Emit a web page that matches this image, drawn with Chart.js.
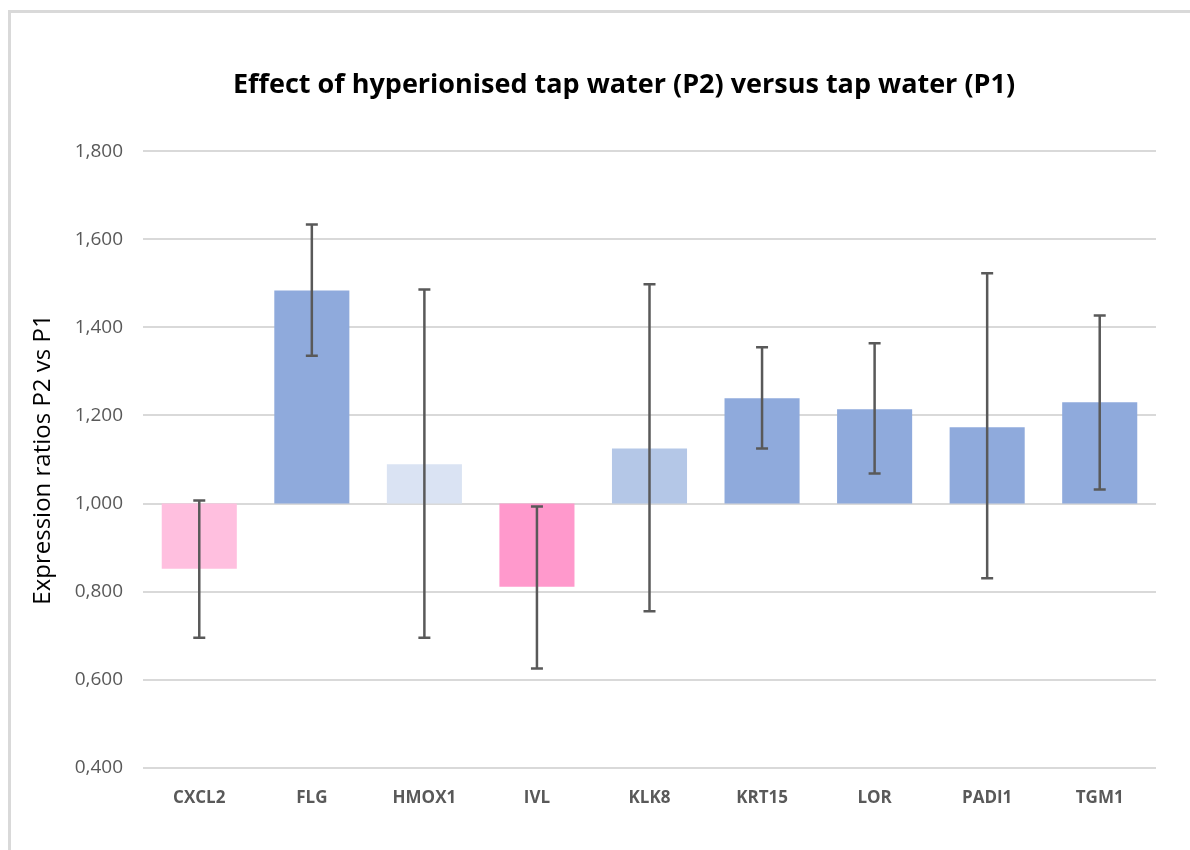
<!DOCTYPE html>
<html>
<head>
<meta charset="utf-8">
<script src="https://cdn.jsdelivr.net/npm/chart.js@4.4.1/dist/chart.umd.min.js"></script>
<style>
  html, body { margin: 0; padding: 0; background: #ffffff; overflow: hidden; width: 1190px; height: 850px; }
  #frame { position: absolute; left: 8px; top: 10px; width: 1400px; height: 1000px; border-top: 3px solid #d9d9d9; border-left: 3px solid #d9d9d9; }
  #wrap { position: absolute; left: 0; top: 0; width: 1248px; height: 850px; }
</style>
</head>
<body>
<div id="frame"></div>
<div id="wrap"><canvas id="c" width="1248" height="850"></canvas></div>
<script>
const categories = ['CXCL2', 'FLG', 'HMOX1', 'IVL', 'KLK8', 'KRT15', 'LOR', 'PADI1', 'TGM1'];
const ratios     = [0.852, 1.484, 1.089, 0.811, 1.125, 1.239, 1.214, 1.173, 1.230];
const errLow     = [0.695, 1.336, 0.695, 0.625, 0.755, 1.125, 1.068, 0.830, 1.032];
const errHigh    = [1.007, 1.634, 1.486, 0.993, 1.498, 1.355, 1.364, 1.523, 1.427];
const barColors  = ['#FFBFDF', '#8FAADC', '#DAE3F3', '#FF99CC', '#B4C7E7', '#8FAADC', '#8FAADC', '#8FAADC', '#8FAADC'];
const baseline = 1.0;
const yTicks = { min: 0.4, max: 1.8, step: 0.2 };

const errorBarPlugin = {
  id: 'errorBars',
  afterDatasetsDraw(chart) {
    const ctx = chart.ctx;
    const x = chart.scales.x, y = chart.scales.y;
    ctx.save();
    ctx.strokeStyle = '#595959';
    ctx.lineWidth = 2.5;
    const cap = 6;
    categories.forEach((c, i) => {
      const px = x.getPixelForValue(i);
      const top = y.getPixelForValue(errHigh[i]);
      const bot = y.getPixelForValue(errLow[i]);
      ctx.beginPath();
      ctx.moveTo(px, top); ctx.lineTo(px, bot);
      ctx.moveTo(px - cap, top); ctx.lineTo(px + cap, top);
      ctx.moveTo(px - cap, bot); ctx.lineTo(px + cap, bot);
      ctx.stroke();
    });
    ctx.restore();
  }
};

const FONT = "'Open Sans', 'Noto Sans', sans-serif";

new Chart(document.getElementById('c'), {
  type: 'bar',
  data: {
    labels: categories,
    datasets: [{
      data: ratios.map(v => [baseline, v]),
      backgroundColor: barColors,
      borderWidth: 0,
      categoryPercentage: 1,
      barPercentage: 0.667
    }]
  },
  options: {
    responsive: false,
    animation: false,
    layout: { padding: { left: 10, right: 10, top: 0, bottom: 22 } },
    plugins: {
      legend: { display: false },
      tooltip: { enabled: false },
      title: {
        display: true,
        text: 'Effect of hyperionised tap water (P2) versus tap water (P1)',
        color: '#000000',
        font: { family: FONT, size: 27, weight: 'bold' },
        padding: { top: 69, bottom: 50 }
      }
    },
    scales: {
      x: {
        grid: { display: false, drawTicks: false },
        border: { display: false },
        ticks: {
          color: '#595959',
          padding: 20,
          font: { family: FONT, size: 17, weight: 'bold' }
        }
      },
      y: {
        min: yTicks.min,
        max: yTicks.max,
        afterFit(scale) { scale.width = 133; },
        grid: { color: '#d9d9d9', lineWidth: 2, drawTicks: false },
        border: { display: false },
        ticks: {
          stepSize: yTicks.step,
          color: '#595959',
          padding: 20,
          font: { family: FONT, size: 19 },
          callback: v => Number(v).toFixed(3).replace('.', ',')
        },
        title: {
          display: true,
          text: 'Expression ratios P2 vs P1',
          color: '#000000',
          font: { family: FONT, size: 24 },
          padding: { top: 19, bottom: 0 }
        }
      },
      spacer: {
        type: 'linear',
        position: 'right',
        display: true,
        afterFit(scale) { scale.width = 82; },
        grid: { display: false, drawTicks: false },
        border: { display: false },
        ticks: { display: false }
      }
    }
  },
  plugins: [errorBarPlugin]
});
</script>
</body>
</html>
